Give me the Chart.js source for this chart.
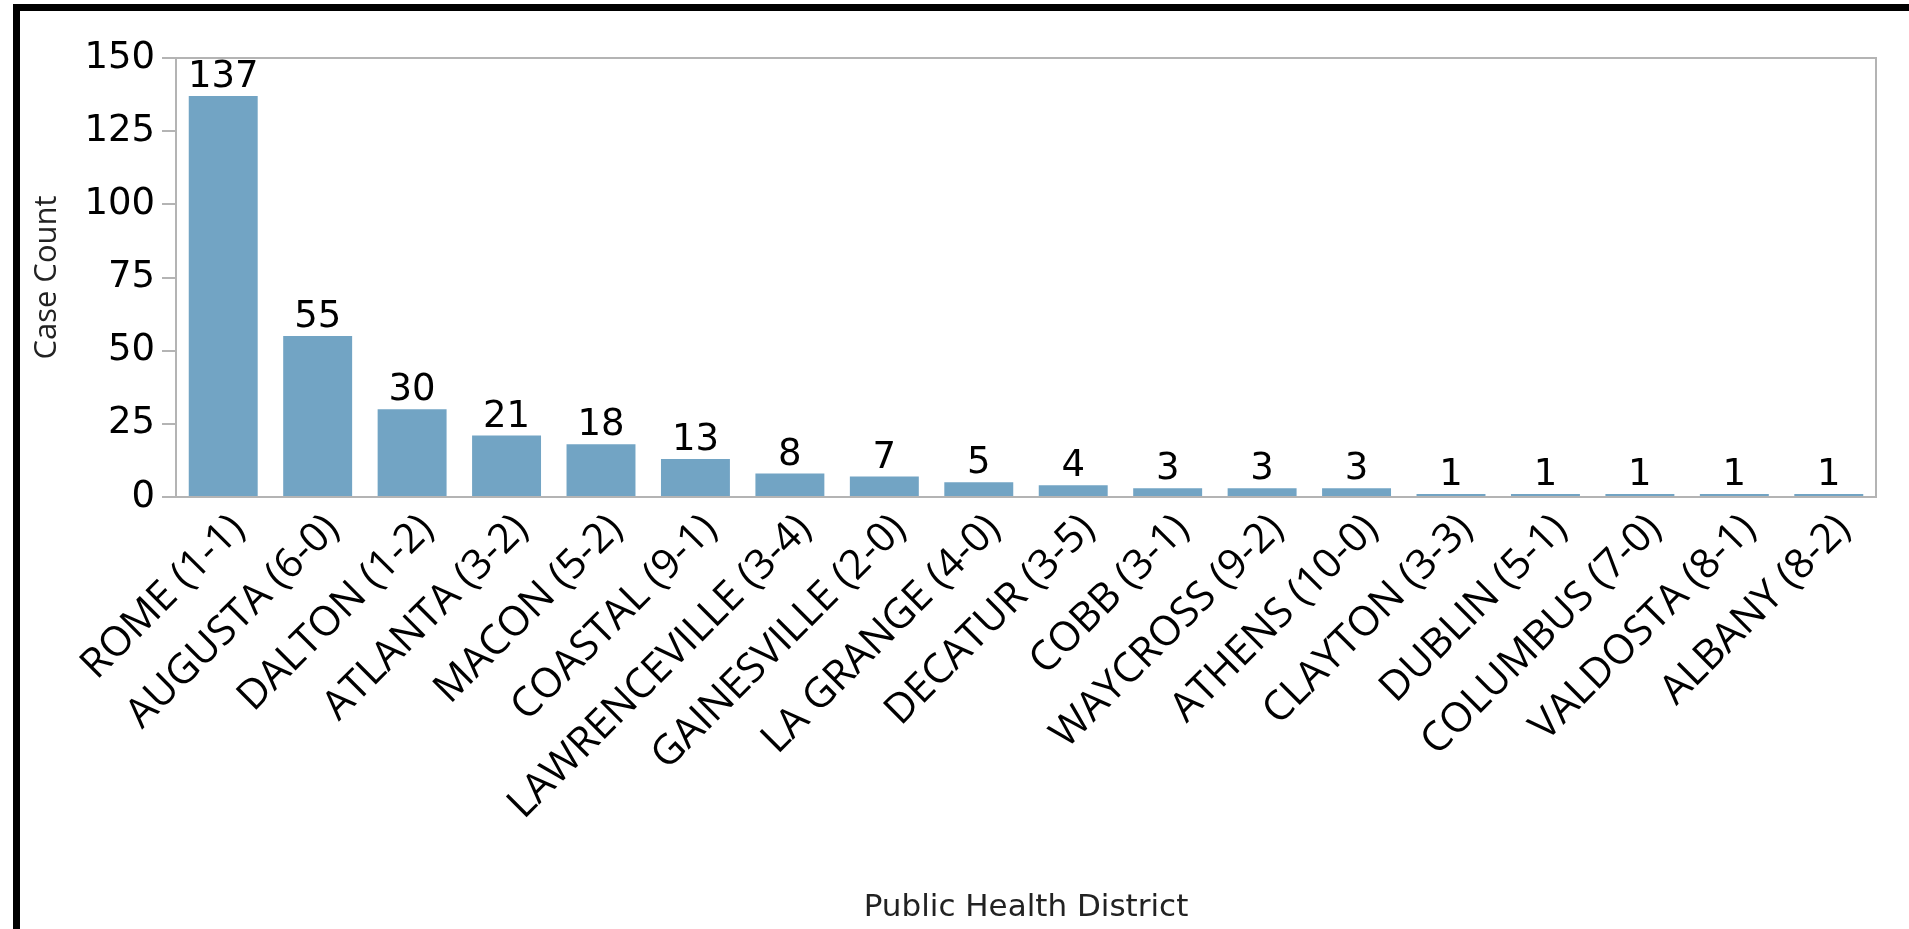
<!DOCTYPE html>
<html>
<head>
<meta charset="utf-8">
<title>Case Count by Public Health District</title>
<script src="https://cdn.jsdelivr.net/npm/chart.js@4.4.0/dist/chart.umd.min.js"></script>
<style>
    html, body { margin: 0; padding: 0; background: #fff; overflow: hidden; }
    #frame {
        position: absolute; left: 13px; top: 4px; width: 1896px; height: 925px;
        border-top: 7px solid #000; border-left: 7px solid #000; box-sizing: border-box;
    }
    #chartCanva { position: absolute; left: 0; top: 0; }
</style>
</head>
<body>
<div id="frame"></div>
<canvas id="chartCanva" width="1909" height="929"></canvas>
<script>
// Data
const districts = [
    "ROME (1-1)", "AUGUSTA (6-0)", "DALTON (1-2)", "ATLANTA (3-2)", "MACON (5-2)",
    "COASTAL (9-1)", "LAWRENCEVILLE (3-4)", "GAINESVILLE (2-0)", "LA GRANGE (4-0)",
    "DECATUR (3-5)", "COBB (3-1)", "WAYCROSS (9-2)", "ATHENS (10-0)", "CLAYTON (3-3)",
    "DUBLIN (5-1)", "COLUMBUS (7-0)", "VALDOSTA (8-1)", "ALBANY (8-2)"
];
const caseCounts = [137, 55, 30, 21, 18, 13, 8, 7, 5, 4, 3, 3, 3, 1, 1, 1, 1, 1];
const yTicks = [0, 25, 50, 75, 100, 125, 150];

const axisGrey = "#b4b4b4";

// value on top of each bar
const barValueLabels = {
    id: "barValueLabels",
    afterDatasetsDraw(chart) {
        const ctx = chart.ctx;
        const meta = chart.getDatasetMeta(0);
        ctx.save();
        ctx.font = '37px "DejaVu Sans"';
        ctx.fillStyle = "#000";
        ctx.textAlign = "center";
        ctx.textBaseline = "alphabetic";
        meta.data.forEach((bar, i) => {
            ctx.fillText(String(caseCounts[i]), bar.x, bar.y - 9);
        });
        ctx.restore();
    },
};

// grey box around the plot area (top and right sides)
const plotFrame = {
    id: "plotFrame",
    afterDraw(chart) {
        const { ctx, chartArea: a } = chart;
        ctx.save();
        ctx.strokeStyle = axisGrey;
        ctx.lineWidth = 2;
        ctx.beginPath();
        ctx.moveTo(a.left, a.top);
        ctx.lineTo(a.right, a.top);
        ctx.lineTo(a.right, a.bottom);
        ctx.stroke();
        ctx.restore();
    },
};

new Chart(document.getElementById("chartCanva"), {
    type: "bar",
    data: {
        labels: districts,
        datasets: [
            {
                label: "Case Count",
                data: caseCounts,
                backgroundColor: "#72a4c4",
                barPercentage: 0.73,
                categoryPercentage: 1,
            },
        ],
    },
    options: {
        responsive: false,
        animation: false,
        layout: { padding: { left: 20, top: 58, right: 33, bottom: 0 } },
        plugins: {
            legend: { display: false },
            tooltip: { enabled: false },
        },
        scales: {
            x: {
                grid: { display: false },
                border: { color: axisGrey, width: 2 },
                ticks: {
                    autoSkip: false,
                    maxRotation: 45,
                    minRotation: 45,
                    color: "#000",
                    padding: 0,
                    labelOffset: 15,
                    font: { family: "Open Sans", size: 41 },
                },
                title: {
                    display: true,
                    text: "Public Health District",
                    color: "#222",
                    font: { family: "DejaVu Sans", size: 31 },
                    padding: { top: 0, bottom: 2 },
                },
                afterFit: (scale) => { scale.height = 432; },
            },
            y: {
                min: 0,
                max: 150,
                afterBuildTicks: (scale) => {
                    scale.ticks = yTicks.map((v) => ({ value: v }));
                },
                grid: { drawOnChartArea: false, tickLength: 14, color: axisGrey, lineWidth: 2 },
                border: { color: axisGrey, width: 2 },
                ticks: {
                    color: "#000",
                    padding: 7,
                    font: { family: "DejaVu Sans", size: 37 },
                },
                title: {
                    display: true,
                    text: "Case Count",
                    color: "#222",
                    font: { family: "Open Sans", size: 31 },
                    padding: { top: 9, bottom: 0 },
                },
                afterFit: (scale) => { scale.width = 156; },
            },
        },
    },
    plugins: [barValueLabels, plotFrame],
});
</script>
</body>
</html>
